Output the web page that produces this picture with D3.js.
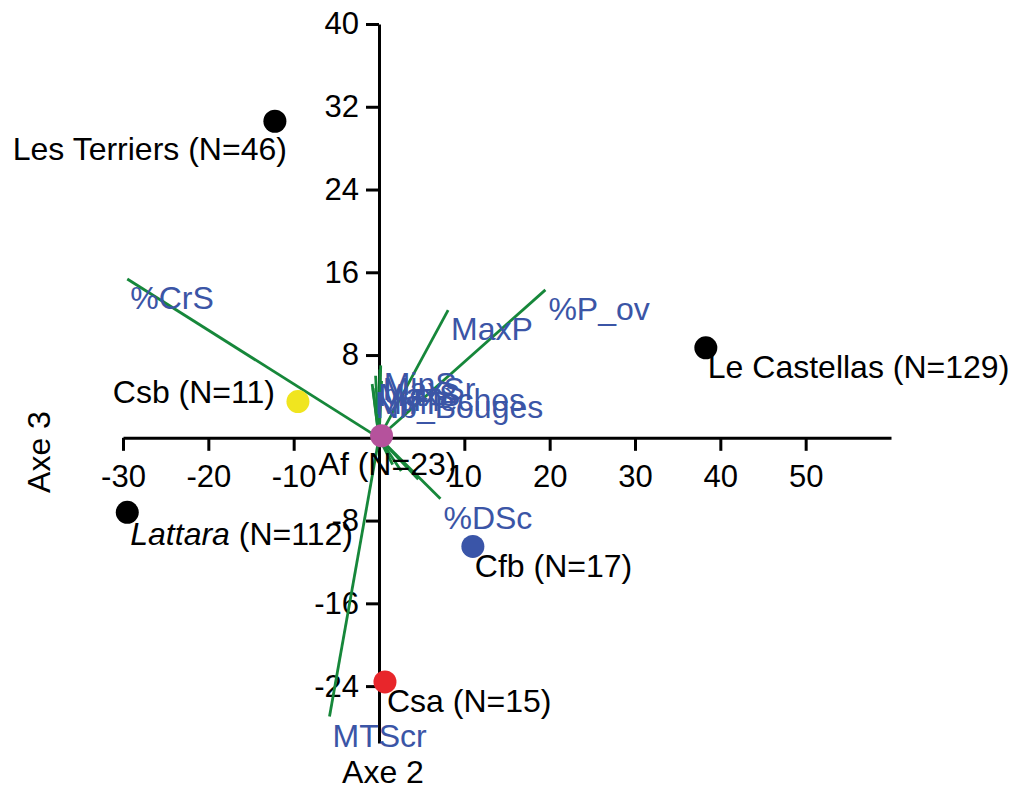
<!DOCTYPE html>
<html>
<head>
<meta charset="utf-8">
<script src="https://cdn.jsdelivr.net/npm/d3@7/dist/d3.min.js"></script>
<style>
  html, body { margin: 0; padding: 0; background: #fff; }
  svg { display: block; font-family: "Liberation Sans", Arial, sans-serif; }
</style>
</head>
<body>
<svg id="chart" width="1010" height="792"></svg>
<script>
// ---- data ----
const xTicks = [-30, -20, -10, 10, 20, 30, 40, 50];
const yTicks = [40, 32, 24, 16, 8, -8, -16, -24];

const groupNames  = ["Les Terriers", "Le Castellas", "Csb", "Lattara", "Af", "Cfb", "Csa"];
const groupN      = [46, 129, 11, 112, 23, 17, 15];
const groupAxe2   = [-12.2, 38.3, -9.5, -29.5, 0.3, 11.0, 0.7];
const groupAxe3   = [30.6, 8.7, 3.5, -7.2, 0.2, -10.5, -23.6];
const groupColors = ["#000000", "#000000", "#f0e51f", "#000000", "#b5529c", "#3a55a8", "#e8262b"];

const varNames = ["%CrS", "MaxP", "%P_ov", "%DSc", "MTScr", "MinS", "MaxSr", "MaxS", "%Flèches", "MinP", "Nb_Bouges"];
const varAxe2  = [-29.5, 8.1, 19.5, 7.2, -5.8, 0.2, 0.1, -0.4, 0.3, -0.8, -0.7];
const varAxe3  = [15.35, 12.35, 14.3, -5.9, -26.95, 7.0, 6.6, 6.0, 5.5, 5.2, 4.8];

const minorAxe2 = [1.6, 2.6, 4.6, -0.4];
const minorAxe3 = [-2.6, -3.2, -4.0, 3.6];

// ---- layout ----
const svg = d3.select("#chart");
const x = d3.scaleLinear().domain([-30, 60]).range([123, 891]);
const y = d3.scaleLinear().domain([-29.5, 40]).range([743, 24]);
const FONT = 32;

// axes
const gx = svg.append("g")
  .attr("transform", `translate(0,${y(0)})`)
  .call(d3.axisBottom(x).tickValues(xTicks).tickSize(13).tickSizeOuter(0).tickPadding(14).tickFormat(d3.format("d")));
const gy = svg.append("g")
  .attr("transform", `translate(${x(0)},0)`)
  .call(d3.axisLeft(y).tickValues(yTicks).tickSize(13).tickSizeOuter(0).tickPadding(7).tickFormat(d3.format("d")));
[gx, gy].forEach(g => {
  g.selectAll("path, line").attr("stroke", "#000").attr("stroke-width", 3);
  g.selectAll("text").attr("fill", "#000").style("font-size", "31px")
    .style("font-family", "'Liberation Sans', Arial, sans-serif");
});
gx.selectAll("text").text(d => String(d));
gy.selectAll("text").text(d => String(d));

// axis titles
svg.append("text").attr("x", 383).attr("y", 783).attr("text-anchor", "middle")
  .style("font-size", FONT + "px").text("Axe 2");
svg.append("text").attr("transform", "translate(50,452) rotate(-90)").attr("text-anchor", "middle")
  .style("font-size", FONT + "px").text("Axe 3");

// loading vectors
const green = "#16873a";
const minor = minorAxe2.map((v, i) => ({ a: v, b: minorAxe3[i] }));
svg.append("g").selectAll("line").data(minor).join("line")
  .attr("x1", x(0)).attr("y1", y(0))
  .attr("x2", d => x(d.a)).attr("y2", d => y(d.b))
  .attr("stroke", green).attr("stroke-width", 2.8);

const vars = varNames.map((n, i) => ({ name: n, a: varAxe2[i], b: varAxe3[i] }));
svg.append("g").selectAll("line").data(vars).join("line")
  .attr("x1", x(0)).attr("y1", y(0))
  .attr("x2", d => x(d.a)).attr("y2", d => y(d.b))
  .attr("stroke", green).attr("stroke-width", 2.8);

// group points
const groups = groupNames.map((n, i) => ({ name: n, N: groupN[i], a: groupAxe2[i], b: groupAxe3[i], c: groupColors[i] }));
svg.append("g").selectAll("circle").data(groups).join("circle")
  .attr("cx", d => x(d.a)).attr("cy", d => y(d.b)).attr("r", 11.5)
  .attr("fill", d => d.c);

// variable labels (hanging just below the vector tip)
svg.append("g").selectAll("text").data(vars).join("text")
  .attr("x", d => x(d.a) + 3).attr("y", d => y(d.b) + 30)
  .attr("fill", "#3b55a6").style("font-size", FONT + "px")
  .text(d => d.name);

// group labels
const place = {
  "Les Terriers": { dx: 12, dy: 39, anchor: "end" },
  "Le Castellas": { dx: 2, dy: 30, anchor: "start" },
  "Csb": { dx: -23, dy: 1, anchor: "end" },
  "Lattara": { dx: 3, dy: 33, anchor: "start" },
  "Af": { dx: -63, dy: 39, anchor: "start" },
  "Cfb": { dx: 2, dy: 31, anchor: "start" },
  "Csa": { dx: 2, dy: 30, anchor: "start" }
};
const gl = svg.append("g").selectAll("text").data(groups).join("text")
  .attr("x", d => x(d.a) + place[d.name].dx)
  .attr("y", d => y(d.b) + place[d.name].dy)
  .attr("text-anchor", d => place[d.name].anchor)
  .attr("fill", "#000").style("font-size", FONT + "px");
gl.append("tspan").style("font-style", d => d.name === "Lattara" ? "italic" : "normal").text(d => d.name);
gl.append("tspan").text(d => ` (N=${d.N})`);
</script>
</body>
</html>
